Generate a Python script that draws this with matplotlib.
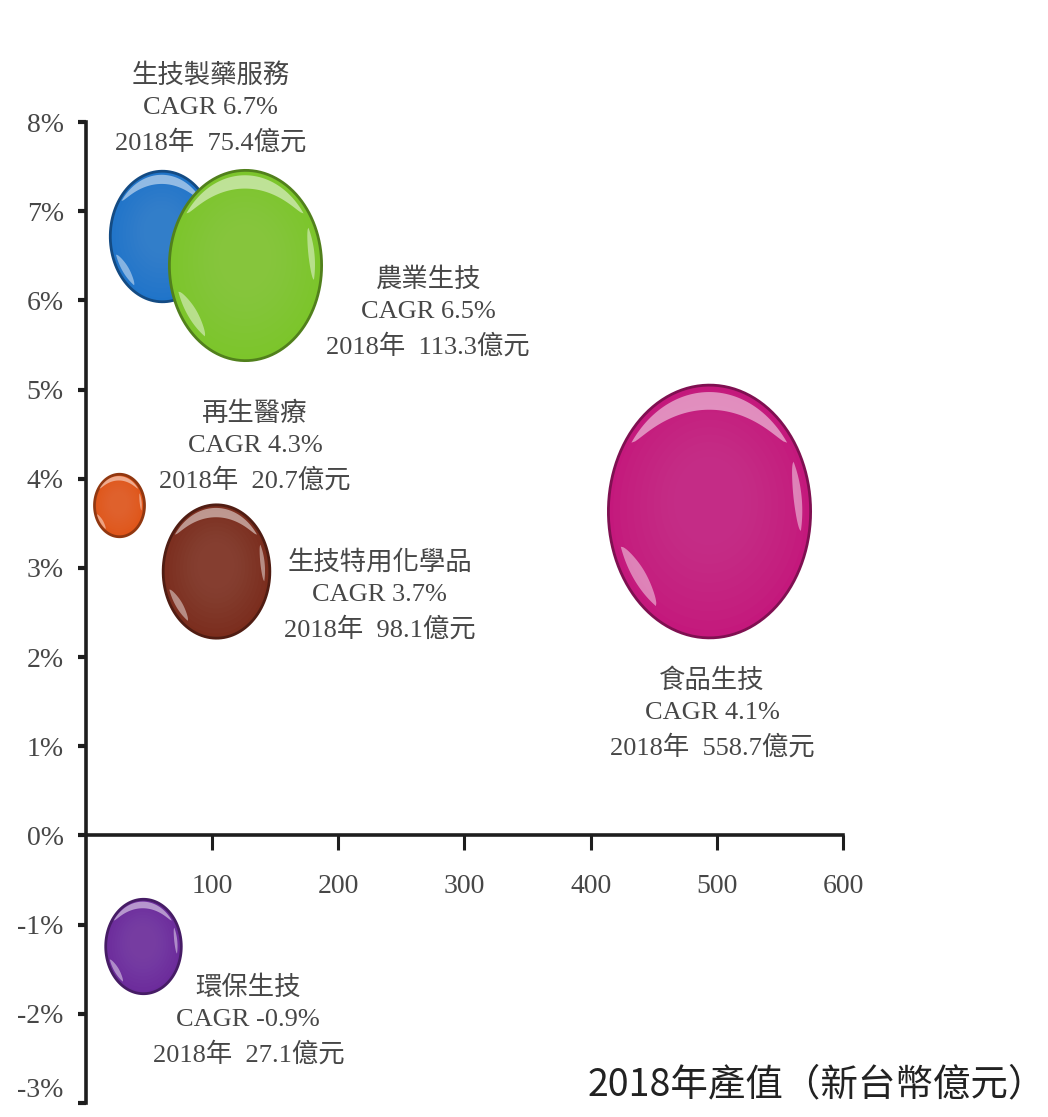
import numpy as np
import matplotlib
matplotlib.use('Agg')
import matplotlib.pyplot as plt
from matplotlib.path import Path
from matplotlib.markers import MarkerStyle
import matplotlib.colors as mcolors

# ---------------- data ----------------
sectors = ['生技製藥服務', '農業生技', '再生醫療', '生技特用化學品', '食品生技', '環保生技']
cagr = [6.7, 6.5, 4.3, 3.7, 4.1, -0.9]
value_2018 = [75.4, 113.3, 20.7, 98.1, 558.7, 27.1]
bubble_x = [60, 126, 26, 103, 494, 45]
bubble_y = [6.72, 6.40, 3.70, 2.97, 3.64, -1.24]
bubble_d = [94, 137, 45, 96, 182, 68]          # bubble diameter (points)
colors = ['#1f74c9', '#7cc52b', '#df5418', '#7b2d1d', '#c4187c', '#6b2b9b']
x_ticks = [100, 200, 300, 400, 500, 600]
y_ticks = [-3, -2, -1, 0, 1, 2, 3, 4, 5, 6, 7, 8]
x_title = '2018年產值（新台幣億元）'

# label offsets from bubble centre (points) - layout only
label_off = [(35, 92), (132, -35), (98, 42), (118, -18), (2, -146), (76, -54)]

FAM = ['Liberation Serif', 'Noto Sans CJK TC', 'DejaVu Sans']
plt.rcParams['font.family'] = FAM
TXT = '#474747'

fig = plt.figure(figsize=(10.48, 11.17), dpi=100)
ax = fig.add_axes([86/1048, 14/1117, 757/1048, 981/1117])
ax.set_xlim(0, 600)
ax.set_ylim(-3, 8)
ax.patch.set_alpha(0)

for s in ['top', 'right']:
    ax.spines[s].set_visible(False)
ax.spines['bottom'].set_position(('data', 0))
for s in ['left', 'bottom']:
    ax.spines[s].set_linewidth(2.6)
    ax.spines[s].set_color('#1e1e1e')

ax.set_xticks(x_ticks)
ax.set_xticklabels([str(v) for v in x_ticks])
ax.set_yticks(y_ticks)
ax.set_yticklabels([f'{v}%' for v in y_ticks])
ax.tick_params(axis='x', direction='out', length=11, width=2.2, color='#1e1e1e',
               pad=17, labelsize=20, labelcolor=TXT)
ax.tick_params(axis='y', direction='out', length=6, width=3, color='#1e1e1e',
               pad=10, labelsize=20, labelcolor=TXT)
# keep the lowest label inside the canvas
ax.get_yticklabels()[0].set_verticalalignment('bottom')

# ---------------- bubble marker paths ----------------
A = 0.8  # horizontal/vertical aspect of the bubbles


def ell(r=1.0, dy=0.0, n=120):
    t = np.linspace(0, 2 * np.pi, n)
    return np.column_stack([A * r * np.cos(t), r * np.sin(t) + dy])


def anchored(polys):
    verts = [(0, 1), (0, -1)]
    codes = [Path.MOVETO, Path.MOVETO]
    for p in polys:
        verts += [tuple(v) for v in p]
        codes += [Path.MOVETO] + [Path.LINETO] * (len(p) - 2) + [Path.CLOSEPOLY]
    return MarkerStyle(Path(np.array(verts, float), codes))


def band(a0, a1, r_out, r_in, n=60):
    t = np.radians(np.linspace(a0, a1, n))
    mid = np.linspace(0, 1, n)
    taper = np.sin(mid * np.pi) ** 0.6
    rin = r_out - (r_out - r_in) * taper
    outer = np.column_stack([A * r_out * np.cos(t), r_out * np.sin(t)])
    inner = np.column_stack([A * rin[::-1] * np.cos(t[::-1]), rin[::-1] * np.sin(t[::-1])])
    return np.vstack([outer, inner, outer[:1]])


base_marker = MarkerStyle(Path(ell(), closed=True))
glow_markers = [anchored([ell(r, 0.12 * (1 - r))]) for r in np.linspace(0.95, 0.35, 10)]
top_hl = anchored([band(35, 145, 0.94, 0.80)])
side_hl = anchored([band(-10, 25, 0.92, 0.84), band(198, 235, 0.92, 0.8)])

sizes = np.array(bubble_d) ** 2
for i in range(len(sectors)):
    c = np.array(mcolors.to_rgb(colors[i]))
    dark = c * 0.65
    light = c + (1 - c) * 0.2
    z = 3 + i * 10
    ax.scatter(bubble_x[i], bubble_y[i], s=sizes[i], marker=base_marker,
               facecolor=colors[i], edgecolor=dark, linewidth=2.0,
               zorder=z, clip_on=False)
    for k, gm in enumerate(glow_markers):
        ax.scatter(bubble_x[i], bubble_y[i], s=sizes[i], marker=gm,
                   facecolor=light, edgecolor='none', alpha=0.07,
                   zorder=z + 1 + k * 0.05, clip_on=False)
    ax.scatter(bubble_x[i], bubble_y[i], s=sizes[i], marker=top_hl,
               facecolor='white', edgecolor='none', alpha=0.5,
               zorder=z + 2, clip_on=False)
    ax.scatter(bubble_x[i], bubble_y[i], s=sizes[i], marker=side_hl,
               facecolor='white', edgecolor='none', alpha=0.45,
               zorder=z + 2, clip_on=False)

    label = f'{sectors[i]}\nCAGR {cagr[i]}%\n2018年  {value_2018[i]}億元'
    ax.annotate(label, xy=(bubble_x[i], bubble_y[i]), xytext=label_off[i],
                textcoords='offset points', ha='center', va='center',
                fontsize=19, color=TXT, linespacing=1.55,
                family=FAM, zorder=80, annotation_clip=False)

fig.text(0.998, 1 - 1085 / 1117, x_title, ha='right', va='center',
         fontsize=27, color='#222222', family=['Noto Sans CJK TC', 'DejaVu Sans'])

fig.savefig('out.png', dpi=100, facecolor='white')
